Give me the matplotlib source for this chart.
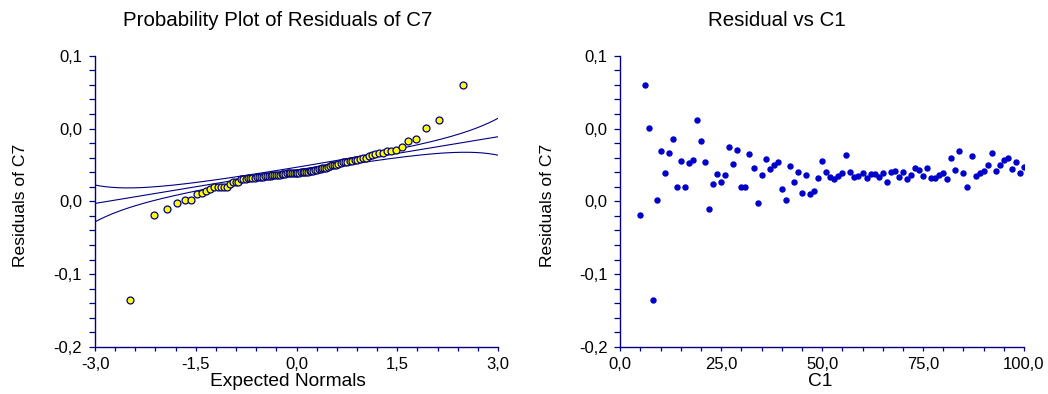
import matplotlib
matplotlib.use('Agg')
import matplotlib.pyplot as plt
from matplotlib.ticker import AutoMinorLocator, FuncFormatter
from statistics import NormalDist
import numpy as np

plt.rcParams['font.family'] = ['Liberation Sans', 'DejaVu Sans']

# residuals of C7 for C1 = 5 .. 100
c1 = list(range(5, 101))
residuals = [
    -0.0644, 0.0698, 0.0256, -0.1519, -0.0483, 0.0019, -0.0208, -0.0005, 0.0142, -0.0352,
    -0.0081, -0.0352, -0.0108, -0.0071, 0.0338, 0.0122, -0.0094, -0.0576, -0.0321, -0.0215,
    -0.0297, -0.0225, 0.0063, -0.0115, 0.0032, -0.0355, -0.0349, -0.0012, -0.0153, -0.0517,
    -0.0228, -0.0061, -0.0170, -0.0128, -0.0098, -0.0373, -0.0489, -0.0136, -0.0304, -0.0201,
    -0.0414, -0.0225, -0.0427, -0.0393, -0.0256, -0.0087, -0.0201, -0.0252, -0.0267, -0.0242,
    -0.0208, -0.0022, -0.0201, -0.0252, -0.0242, -0.0208, -0.0262, -0.0218, -0.0215, -0.0246,
    -0.0208, -0.0297, -0.0194, -0.0187, -0.0252, -0.0201, -0.0273, -0.0225, -0.0156, -0.0180,
    -0.0239, -0.0156, -0.0259, -0.0259, -0.0228, -0.0211, -0.0270, -0.0056, -0.0177, 0.0016,
    -0.0211, -0.0352, -0.0033, -0.0239, -0.0205, -0.0187, -0.0125, -0.0005, -0.0187, -0.0122,
    -0.0074, -0.0050, -0.0170, -0.0098, -0.0208, -0.0143,
]

# reference line of the probability plot
ref_intercept = -0.0178
ref_slope = 0.01145

y_ticks = [-0.2, -0.125, -0.05, 0.025, 0.1]
y_labels = ['-0,2', '-0,1', '0,0', '0,0', '0,1']
x_ticks_left = [-3.0, -1.5, 0.0, 1.5, 3.0]
x_ticks_right = [0, 25, 50, 75, 100]

navy = '#000080'
comma = FuncFormatter(lambda v, p: ('%.1f' % v).replace('.', ','))


def style_axes(ax):
    for s in ['top', 'right']:
        ax.spines[s].set_visible(False)
    for s in ['left', 'bottom']:
        ax.spines[s].set_color(navy)
        ax.spines[s].set_linewidth(1.0)
    ax.set_yticks(y_ticks)
    ax.set_yticklabels(y_labels)
    ax.set_ylim(-0.2, 0.1)
    ax.yaxis.set_minor_locator(AutoMinorLocator(5))
    ax.xaxis.set_minor_locator(AutoMinorLocator(5))
    ax.xaxis.set_major_formatter(comma)
    ax.tick_params(which='both', axis='y', direction='out', length=4.2, width=0.9,
                   color=navy, labelsize=12, pad=5)
    ax.tick_params(which='both', axis='x', direction='out', length=3, width=0.9,
                   color=navy, labelsize=12, pad=4)


fig = plt.figure(figsize=(10.48, 3.94), dpi=100)

# probability plot
ax1 = fig.add_axes([95 / 1048, 1 - 347 / 394, 403 / 1048, 291.3 / 394])
style_axes(ax1)
n = len(residuals)
nd = NormalDist()
sorted_res = sorted(residuals)
expected = [nd.inv_cdf((i + 1 - 0.375) / (n + 0.25)) for i in range(n)]

z = np.linspace(-3, 3, 300)
p = np.array([nd.cdf(v) for v in z])
dens = np.array([nd.pdf(v) for v in z])
center = ref_intercept + ref_slope * z
half = 1.96 * ref_slope / np.sqrt(n) * np.sqrt(p * (1 - p)) / dens
for line in [center, center + half, center - half]:
    ax1.plot(z, line, color=navy, lw=0.8)
ax1.plot(expected, sorted_res, 'o', ms=5, mfc='#FFFF00', mec=navy, mew=0.9)
ax1.set_xlim(-3, 3)
ax1.set_xticks(x_ticks_left)

# residual vs C1
ax2 = fig.add_axes([620.3 / 1048, 1 - 347 / 394, 403.7 / 1048, 291.3 / 394])
style_axes(ax2)
ax2.plot(c1, residuals, 'o', ms=3.6, color='#0000CC')
ax2.set_xlim(0, 100)
ax2.set_xticks(x_ticks_right)

fig.text(278 / 1048, 1 - 21 / 394, 'Probability Plot of Residuals of C7', ha='center', va='center', fontsize=14.8)
fig.text(777 / 1048, 1 - 21 / 394, 'Residual vs C1', ha='center', va='center', fontsize=14.8)
fig.text(288 / 1048, 1 - 382 / 394, 'Expected Normals', ha='center', va='center', fontsize=13.8)
fig.text(820 / 1048, 1 - 382 / 394, 'C1', ha='center', va='center', fontsize=13.8)
fig.text(21 / 1048, 1 - 205 / 394, 'Residuals of C7', ha='center', va='center', rotation=90, fontsize=12.6)
fig.text(547 / 1048, 1 - 205 / 394, 'Residuals of C7', ha='center', va='center', rotation=90, fontsize=12.6)

fig.savefig('out.png', dpi=100)
